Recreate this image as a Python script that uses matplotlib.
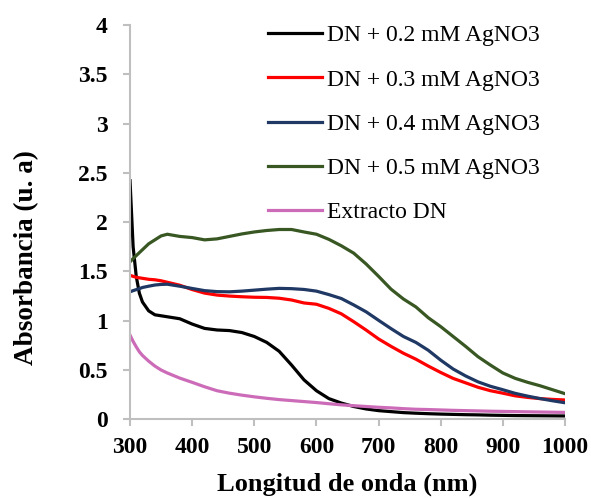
import matplotlib
matplotlib.use("Agg")
import matplotlib.pyplot as plt
from matplotlib.ticker import FuncFormatter, MultipleLocator

plt.rcParams['font.family'] = ['Liberation Serif', 'DejaVu Serif']

# wavelength (nm)
wl = [300, 305, 310, 315, 320, 330, 340, 350, 360,
      380, 400, 420, 440, 460, 480, 500, 520, 540, 560, 580, 600, 620, 640, 660, 680,
      700, 720, 740, 760, 780, 800, 820, 840, 860, 880, 900, 920, 940, 960, 980, 1000]

ag_02 = [2.42, 1.75, 1.45, 1.28, 1.19, 1.10, 1.06, 1.05, 1.04,
         1.02, 0.966, 0.922, 0.906, 0.90, 0.88, 0.84, 0.78, 0.69, 0.55, 0.40, 0.29, 0.21, 0.165, 0.13, 0.105,
         0.088, 0.078, 0.068, 0.062, 0.057, 0.053, 0.05, 0.047, 0.045, 0.042, 0.04, 0.038, 0.037, 0.036, 0.035, 0.034]
ag_03 = [1.46, 1.45, 1.44, 1.435, 1.43, 1.42, 1.415, 1.405, 1.39,
         1.36, 1.316, 1.28, 1.26, 1.25, 1.243, 1.238, 1.236, 1.228, 1.21, 1.18, 1.167, 1.125, 1.07, 0.99, 0.905,
         0.815, 0.74, 0.67, 0.61, 0.54, 0.475, 0.415, 0.37, 0.325, 0.29, 0.265, 0.238, 0.222, 0.21, 0.202, 0.196]
ag_04 = [1.293, 1.305, 1.315, 1.325, 1.337, 1.35, 1.362, 1.368, 1.37,
         1.35, 1.327, 1.305, 1.295, 1.293, 1.30, 1.31, 1.32, 1.328, 1.325, 1.317, 1.30, 1.265, 1.225, 1.16, 1.09,
         1.004, 0.92, 0.84, 0.78, 0.70, 0.60, 0.51, 0.44, 0.38, 0.335, 0.30, 0.263, 0.235, 0.21, 0.188, 0.168]
ag_05 = [1.597, 1.63, 1.66, 1.69, 1.72, 1.78, 1.82, 1.86, 1.877,
         1.855, 1.843, 1.82, 1.83, 1.855, 1.88, 1.90, 1.915, 1.925, 1.925, 1.90, 1.877, 1.825, 1.76, 1.685, 1.575,
         1.45, 1.32, 1.22, 1.14, 1.03, 0.94, 0.84, 0.74, 0.635, 0.55, 0.47, 0.415, 0.375, 0.34, 0.30, 0.26]
extracto = [0.854, 0.79, 0.735, 0.685, 0.648, 0.59, 0.54, 0.50, 0.47,
            0.418, 0.375, 0.33, 0.29, 0.265, 0.245, 0.228, 0.213, 0.20, 0.19, 0.18, 0.17, 0.158, 0.147, 0.138, 0.13,
            0.122, 0.116, 0.108, 0.102, 0.099, 0.095, 0.091, 0.088, 0.085, 0.082, 0.08, 0.078, 0.076, 0.074, 0.072, 0.07]

series = [
    ('DN + 0.2 mM AgNO3', ag_02, '#000000'),
    ('DN + 0.3 mM AgNO3', ag_03, '#FF0000'),
    ('DN + 0.4 mM AgNO3', ag_04, '#1F3864'),
    ('DN + 0.5 mM AgNO3', ag_05, '#385723'),
    ('Extracto DN', extracto, '#CC6CB8'),
]

fig = plt.figure(figsize=(5.91, 4.98), dpi=100)
ax = fig.add_axes([0.22, 0.158, 0.736, 0.792])

for label, vals, color in series:
    ax.plot(wl, vals, color=color, linewidth=2.3, label=label)

ax.set_xlim(300, 1000)
ax.set_ylim(0, 4)
ax.xaxis.set_major_locator(MultipleLocator(100))
ax.yaxis.set_major_locator(MultipleLocator(0.5))
ax.yaxis.set_major_formatter(FuncFormatter(lambda v, p: f'{v:g}'))

for side in ['top', 'right']:
    ax.spines[side].set_visible(False)
for side in ['left', 'bottom']:
    ax.spines[side].set_color('#BFBFBF')
    ax.spines[side].set_linewidth(1.5)

ax.tick_params(axis='both', direction='out', length=5, width=1.5, color='#BFBFBF', labelsize=17)
ax.tick_params(axis='y', pad=11)
ax.tick_params(axis='x', pad=8)
for lab in ax.get_xticklabels() + ax.get_yticklabels():
    lab.set_fontweight('bold')

ax.set_xlabel('Longitud de onda (nm)', fontsize=19, fontweight='bold')
ax.set_ylabel('Absorbancia (u. a)', fontsize=19.5, fontweight='bold')
ax.xaxis.set_label_coords(0.5, -0.135)
ax.yaxis.set_label_coords(-0.21, 0.41)

ax.legend(loc='upper left', bbox_to_anchor=(0.317, 1.0), frameon=False, fontsize=17,
          handlelength=2.3, handletextpad=0.2, labelspacing=0.96, borderpad=0, borderaxespad=0)

plt.savefig('out.png', dpi=100)
plt.close()
